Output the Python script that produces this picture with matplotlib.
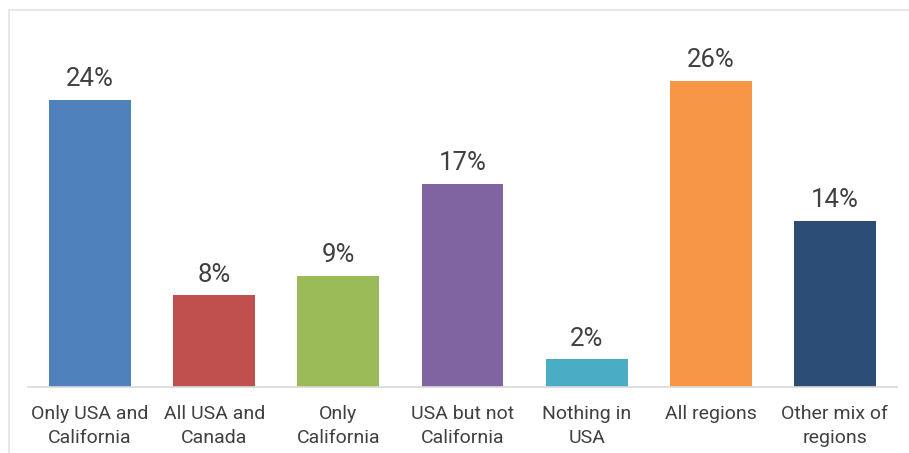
import matplotlib.pyplot as plt
from matplotlib.patches import Rectangle

# data
categories = ["Only USA and\nCalifornia", "All USA and\nCanada", "Only\nCalifornia",
              "USA but not\nCalifornia", "Nothing in\nUSA", "All regions",
              "Other mix of\nregions"]
values = [24.0, 7.7, 9.3, 17.0, 2.3, 25.6, 13.9]
colors = ["#4F81BD", "#C0504D", "#9BBB59", "#8064A2", "#4BACC6", "#F79646", "#2C4D75"]

plt.rcParams['font.family'] = ['Roboto', 'DejaVu Sans']
text_color = "#404040"

fig = plt.figure(figsize=(9.09, 4.53), dpi=100)
W, H = 909, 453
ax = fig.add_axes([28 / W, 66 / H, (897 - 28) / W, (387 - 28) / H])

x = range(len(categories))
bars = ax.bar(x, values, width=0.66, color=colors)
for b, v in zip(bars, values):
    ax.annotate("{:.0f}%".format(v), (b.get_x() + b.get_width() / 2, v),
                xytext=(0, 6), textcoords="offset points",
                ha="center", va="bottom", fontsize=18.5, color=text_color)

ax.set_xlim(-0.5, len(categories) - 0.5)
ax.set_ylim(0, 30)
ax.set_xticks(list(x))
ax.set_xticklabels(categories, fontsize=14, color=text_color, linespacing=1.45)
ax.tick_params(axis="x", length=0, pad=13)
ax.set_yticks([])
for s in ["top", "right", "left"]:
    ax.spines[s].set_visible(False)
ax.spines["bottom"].set_color("#d9d9d9")
ax.spines["bottom"].set_linewidth(1.2)

# light frame around the chart area
fig.patches.append(Rectangle((9 / W, -0.1), 1.0, 1.1 - 10 / H, transform=fig.transFigure,
                             fill=False, edgecolor="#e3e3e3", linewidth=1.2))

fig.savefig("out.png", dpi=100)
